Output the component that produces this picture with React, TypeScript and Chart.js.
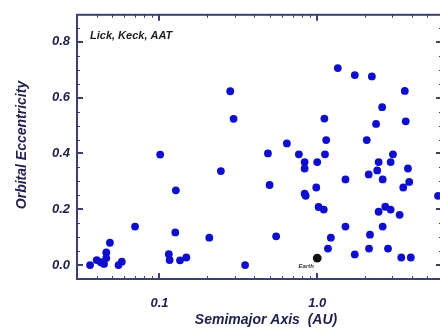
import React, { useEffect, useRef } from 'react';
import { Chart, registerables } from 'chart.js';

Chart.register(...registerables);

// Exoplanet semimajor axes (AU) and orbital eccentricities
const semimajorAxis = [
  0.0363, 0.040, 0.0425, 0.0445, 0.046, 0.046, 0.0485, 0.055, 0.0577, 0.070,
  0.101, 0.1146, 0.116, 0.126, 0.127, 0.135, 0.148, 0.207, 0.245, 0.281,
  0.295, 0.349, 0.487, 0.499, 0.549, 0.642, 0.765, 0.832, 0.832, 0.832,
  0.845, 0.986, 1.00, 1.02, 1.10, 1.11, 1.12, 1.14, 1.17, 1.22,
  1.35, 1.51, 1.51, 1.73, 1.73, 2.06, 2.12, 2.13, 2.16, 2.22,
  2.36, 2.40, 2.45, 2.45, 2.58, 2.60, 2.60, 2.70, 2.81, 2.92,
  2.92, 3.02, 3.33, 3.41, 3.51, 3.59, 3.64, 3.76, 3.83, 3.92,
  5.83,
];
const eccentricity = [
  0.000, 0.018, 0.010, 0.004, 0.025, 0.045, 0.080, 0.000, 0.012, 0.138,
  0.396, 0.039, 0.018, 0.117, 0.268, 0.017, 0.027, 0.098, 0.337, 0.623,
  0.524, 0.000, 0.400, 0.287, 0.103, 0.436, 0.397, 0.369, 0.346, 0.256,
  0.248, 0.278, 0.369, 0.208, 0.199, 0.525, 0.397, 0.448, 0.059, 0.098,
  0.706, 0.307, 0.138, 0.681, 0.038, 0.448, 0.325, 0.059, 0.109, 0.676,
  0.506, 0.339, 0.369, 0.191, 0.566, 0.307, 0.138, 0.209, 0.059, 0.369,
  0.199, 0.397, 0.180, 0.027, 0.278, 0.624, 0.515, 0.346, 0.298, 0.027,
  0.248,
];
const earthA = [1.0];
const earthE = [0.025];

const xTickValues = [0.1, 1.0];
const xTickLabels = ['0.1', '1.0'];
const xMinorTicks = [0.04, 0.05, 0.06, 0.07, 0.08, 0.09, 0.2, 0.3, 0.4, 0.5, 0.6, 0.7, 0.8, 0.9, 2, 3, 4, 5, 6];
const yTickValues = [0, 0.2, 0.4, 0.6, 0.8];
const yTickLabels = ['0.0', '0.2', '0.4', '0.6', '0.8'];
const yMinorTicks = [0.05, 0.1, 0.15, 0.25, 0.3, 0.35, 0.45, 0.5, 0.55, 0.65, 0.7, 0.75, 0.85];

const AXIS_COLOR = '#3e3e70';
const LABEL_COLOR = '#22224f';
const FONT = "'Liberation Sans', Arial, sans-serif";

const framePlugin = {
  id: 'frameAndText',
  afterDraw(chart: any) {
    const { ctx, chartArea, scales } = chart;
    const { left, right, top, bottom } = chartArea;
    const x = scales.x;
    const y = scales.y;
    ctx.save();
    ctx.strokeStyle = AXIS_COLOR;
    ctx.lineWidth = 2;
    ctx.strokeRect(left, top, right - left, bottom - top);
    const tick = (x1: number, y1: number, x2: number, y2: number, w: number) => {
      ctx.lineWidth = w;
      ctx.beginPath();
      ctx.moveTo(x1, y1);
      ctx.lineTo(x2, y2);
      ctx.stroke();
    };
    xMinorTicks.forEach((v) => {
      const px = Math.round(x.getPixelForValue(v)) + 0.5;
      tick(px, bottom, px, bottom - 3, 1);
      tick(px, top, px, top + 3, 1);
    });
    xTickValues.forEach((v) => {
      const px = Math.round(x.getPixelForValue(v));
      tick(px, bottom, px, bottom - 6, 2);
      tick(px, top, px, top + 6, 2);
    });
    yMinorTicks.forEach((v) => {
      const py = Math.round(y.getPixelForValue(v)) + 0.5;
      tick(left, py, left + 3, py, 1);
      tick(right, py, right - 3, py, 1);
    });
    yTickValues.forEach((v) => {
      const py = Math.round(y.getPixelForValue(v));
      tick(left, py, left + 6, py, 2);
      tick(right, py, right - 6, py, 2);
    });

    ctx.fillStyle = '#1c1c1c';
    ctx.font = `italic bold 11px ${FONT}`;
    ctx.textAlign = 'left';
    ctx.textBaseline = 'middle';
    ctx.fillText('Lick, Keck, AAT', left + 13, top + 21);

    const ex = x.getPixelForValue(earthA[0]);
    const ey = y.getPixelForValue(earthE[0]);
    ctx.font = `italic bold 6px ${FONT}`;
    ctx.textAlign = 'center';
    ctx.fillStyle = '#333333';
    ctx.fillText('Earth', ex - 11, ey + 8);

    ctx.fillStyle = LABEL_COLOR;
    ctx.font = `italic bold 14px ${FONT}`;
    ctx.textAlign = 'center';
    ctx.textBaseline = 'middle';
    ctx.fillText('Semimajor Axis  (AU)', 266, 320);
    ctx.save();
    ctx.translate(22, 145);
    ctx.rotate(-Math.PI / 2);
    ctx.fillText('Orbital Eccentricity', 0, 0);
    ctx.restore();

    ctx.restore();
  },
};

export default function App() {
  const canvasRef = useRef<HTMLCanvasElement | null>(null);

  useEffect(() => {
    if (!canvasRef.current) return;
    const tickFont = { family: FONT, size: 13, style: 'italic' as const, weight: 'bold' as const };
    const chart = new Chart(canvasRef.current, {
      type: 'scatter',
      data: {
        datasets: [
          {
            label: 'Planets',
            data: semimajorAxis.map((a, i) => ({ x: a, y: eccentricity[i] })),
            backgroundColor: '#0e0ecc',
            borderColor: '#0e0ecc',
            pointRadius: 3.9,
            borderWidth: 0,
          },
          {
            label: 'Earth',
            data: earthA.map((a, i) => ({ x: a, y: earthE[i] })),
            backgroundColor: '#111111',
            borderColor: '#111111',
            pointRadius: 4.4,
            borderWidth: 0,
          },
        ],
      },
      options: {
        animation: false,
        responsive: true,
        maintainAspectRatio: false,
        layout: { padding: { top: 12, right: 18, left: 0, bottom: 0 } },
        plugins: { legend: { display: false }, tooltip: { enabled: false }, title: { display: false } },
        scales: {
          x: {
            type: 'logarithmic',
            min: 0.03,
            max: 6.18,
            position: 'bottom',
            grid: { display: false, drawTicks: false },
            border: { display: false },
            afterBuildTicks: (s: any) => {
              s.ticks = xTickValues.map((v) => ({ value: v }));
            },
            afterFit: (s: any) => {
              s.height = 54;
            },
            ticks: {
              autoSkip: false,
              maxRotation: 0,
              minRotation: 0,
              padding: 17,
              color: LABEL_COLOR,
              font: tickFont,
              callback: (_v: any, i: number) => xTickLabels[i],
            },
          },
          y: {
            type: 'linear',
            min: -0.05,
            max: 0.897,
            grid: { display: false, drawTicks: false },
            border: { display: false },
            afterBuildTicks: (s: any) => {
              s.ticks = yTickValues.map((v) => ({ value: v }));
            },
            afterFit: (s: any) => {
              s.width = 77;
            },
            ticks: {
              autoSkip: false,
              padding: 7,
              color: LABEL_COLOR,
              font: tickFont,
              callback: (_v: any, i: number) => yTickLabels[i],
            },
          },
        },
      },
      plugins: [framePlugin],
    });
    return () => chart.destroy();
  }, []);

  return (
    <div
      style={{
        position: 'fixed',
        left: 0,
        top: 0,
        width: 440,
        height: 333,
        overflow: 'hidden',
        background: '#ffffff',
      }}
    >
      <div style={{ position: 'relative', width: 460, height: 333 }}>
        <canvas ref={canvasRef} />
      </div>
    </div>
  );
}
